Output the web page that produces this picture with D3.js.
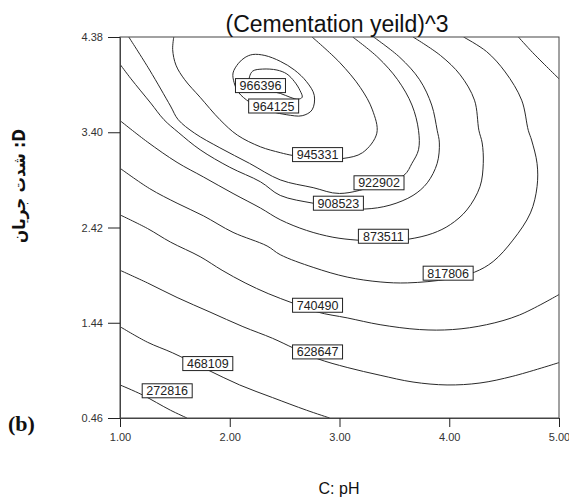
<!DOCTYPE html>
<html>
<head>
<meta charset="utf-8">
<script src="https://cdn.jsdelivr.net/npm/d3@7"></script>
<style>
  body { margin: 0; background: #fff; }
  text { font-family: "Liberation Sans", Arial, sans-serif; }
</style>
</head>
<body>
<svg id="chart" width="569" height="500"></svg>
<script>
// axis ticks
const xTicks = [1.00, 2.00, 3.00, 4.00, 5.00];
const yTicks = [0.46, 1.44, 2.42, 3.40, 4.38];

// contour lines, [pH, D]
const c272816 = [[1.00,0.80],[1.20,0.70],[1.46,0.54],[1.61,0.46]];
const c468109 = [[1.00,1.40],[1.25,1.24],[1.48,1.13],[1.79,0.96],[2.09,0.80],[2.39,0.67],[2.70,0.54],[2.91,0.46]];
const c628647 = [[1.00,1.98],[1.25,1.85],[1.52,1.70],[1.82,1.55],[2.12,1.40],[2.39,1.28],[2.58,1.18],[2.80,1.07],
  [3.07,0.98],[3.37,0.90],[3.67,0.83],[3.98,0.80],[4.28,0.82],[4.58,0.89],[5.00,1.03]];
const c740490 = [[1.00,2.55],[1.25,2.41],[1.46,2.27],[1.73,2.12],[1.93,1.98],[2.14,1.85],[2.35,1.74],[2.58,1.64],
  [2.80,1.55],[3.07,1.49],[3.37,1.42],[3.73,1.37],[4.03,1.37],[4.34,1.42],[4.64,1.52],[5.00,1.73]];
const c740490b = [[4.63,4.38],[4.76,4.22],[5.00,3.95]];
const c817806 = [[1.00,3.03],[1.27,2.82],[1.52,2.67],[1.76,2.54],[2.03,2.37],[2.34,2.23],[2.46,2.14],[2.76,2.01],
  [3.07,1.91],[3.37,1.86],[3.62,1.85],[3.99,1.89],[4.23,1.96],[4.40,2.07],[4.58,2.29],[4.74,2.57],[4.80,2.84],
  [4.80,3.08],[4.75,3.32],[4.72,3.42],[4.66,3.73],[4.51,4.02],[4.34,4.23],[4.13,4.38]];
const c873511 = [[1.00,3.52],[1.25,3.30],[1.52,3.09],[1.76,2.94],[2.03,2.77],[2.28,2.62],[2.46,2.50],[2.70,2.39],
  [2.94,2.32],[3.16,2.29],[3.40,2.28],[3.63,2.30],[3.85,2.36],[4.01,2.45],[4.16,2.60],[4.28,2.84],[4.31,3.08],
  [4.30,3.29],[4.27,3.42],[4.23,3.73],[4.10,3.99],[3.92,4.19],[3.67,4.38]];
const c908523 = [[1.00,4.10],[1.10,3.95],[1.28,3.70],[1.40,3.53],[1.53,3.40],[1.73,3.22],[2.00,3.04],[2.28,2.89],[2.46,2.75],
  [2.76,2.67],[2.99,2.63],[3.23,2.61],[3.46,2.65],[3.67,2.75],[3.80,2.88],[3.89,3.08],[3.91,3.29],[3.89,3.42],
  [3.84,3.68],[3.73,3.94],[3.55,4.17],[3.31,4.38]];
const c922902 = [[1.08,4.38],[1.27,4.04],[1.46,3.67],[1.53,3.53],[1.68,3.39],[1.91,3.24],[2.18,3.08],[2.46,2.91],
  [2.76,2.83],[3.00,2.77],[3.36,2.86],[3.59,2.96],[3.66,3.08],[3.72,3.22],[3.72,3.42],[3.66,3.68],[3.53,3.94],
  [3.35,4.17],[3.12,4.38]];
const c945331 = [[1.49,4.38],[1.48,4.25],[1.51,4.09],[1.59,3.94],[1.73,3.76],[1.91,3.53],[2.07,3.37],[2.28,3.25],
  [2.46,3.19],[2.58,3.16],[2.80,3.13],[3.03,3.13],[3.21,3.19],[3.34,3.39],[3.30,3.63],[3.19,3.86],[3.00,4.12],[2.75,4.38]];
const c964125 = [[2.03,4.01],[2.08,4.11],[2.14,4.17],[2.21,4.20],[2.32,4.19],[2.46,4.13],[2.59,4.04],[2.70,3.92],
  [2.77,3.78],[2.75,3.63],[2.66,3.57],[2.52,3.58],[2.39,3.61],[2.28,3.65],[2.18,3.71],[2.08,3.81],[2.04,3.91]];
const c966396 = [[2.18,3.97],[2.21,4.03],[2.30,4.05],[2.43,4.04],[2.52,4.00],[2.59,3.92],[2.64,3.83],[2.66,3.76],
  [2.62,3.74],[2.55,3.76],[2.46,3.80],[2.34,3.83],[2.23,3.87],[2.18,3.91]];

// contour labels: [text, pH, D]
const contourLabels = [
  ["966396", 2.28, 3.88], ["964125", 2.40, 3.67], ["945331", 2.80, 3.17],
  ["922902", 3.36, 2.88], ["908523", 2.99, 2.67], ["873511", 3.40, 2.33],
  ["817806", 3.99, 1.95], ["740490", 2.80, 1.62], ["628647", 2.80, 1.14],
  ["468109", 1.80, 1.02], ["272816", 1.43, 0.74]
];

const openLines = [c272816, c468109, c628647, c740490, c740490b, c817806, c873511, c908523, c922902, c945331];
const closedLines = [c964125, c966396];

const svg = d3.select('#chart');
const margin = { left: 120, right: 10, top: 37, bottom: 82 };
const width = 569, height = 500;

const x = d3.scaleLinear().domain([1, 5]).range([margin.left, width - margin.right]);
const y = d3.scaleLinear().domain([0.46, 4.38]).range([height - margin.bottom, margin.top]);

svg.append('clipPath').attr('id', 'plotClip')
  .append('rect')
  .attr('x', x(1)).attr('y', y(4.38))
  .attr('width', x(5) - x(1)).attr('height', y(0.46) - y(4.38));

const g = svg.append('g').attr('clip-path', 'url(#plotClip)');

const openLine = d3.line().x(d => x(d[0])).y(d => y(d[1])).curve(d3.curveCatmullRom.alpha(0.5));
const closedLine = d3.line().x(d => x(d[0])).y(d => y(d[1])).curve(d3.curveCatmullRomClosed.alpha(0.5));

g.selectAll('path.open').data(openLines).enter().append('path')
  .attr('class', 'open')
  .attr('d', openLine)
  .attr('fill', 'none').attr('stroke', '#2a2a2a').attr('stroke-width', 1);

g.selectAll('path.closed').data(closedLines).enter().append('path')
  .attr('class', 'closed')
  .attr('d', closedLine)
  .attr('fill', 'none').attr('stroke', '#2a2a2a').attr('stroke-width', 1);

// labels on the contours
const lab = svg.append('g').selectAll('g').data(contourLabels).enter().append('g')
  .attr('transform', d => `translate(${x(d[1])},${y(d[2])})`);
lab.append('rect')
  .attr('x', -25).attr('y', -7).attr('width', 50).attr('height', 14)
  .attr('fill', '#fff').attr('stroke', '#222').attr('stroke-width', 1);
lab.append('text')
  .attr('text-anchor', 'middle').attr('dy', '0.36em')
  .attr('font-size', 12.5).attr('fill', '#222')
  .text(d => d[0]);

// frame
svg.append('rect')
  .attr('x', x(1)).attr('y', y(4.38))
  .attr('width', x(5) - x(1)).attr('height', y(0.46) - y(4.38))
  .attr('fill', 'none').attr('stroke', '#444').attr('stroke-width', 1);

// axes
const xAxis = d3.axisBottom(x).tickValues(xTicks).tickFormat(d3.format('.2f')).tickSize(9).tickPadding(6);
const yAxis = d3.axisLeft(y).tickValues(yTicks).tickFormat(d3.format('.2f')).tickSize(12).tickPadding(5);

svg.append('g').attr('transform', `translate(0,${y(0.46)})`).call(xAxis)
  .call(a => a.select('.domain').attr('stroke', '#444'))
  .call(a => a.selectAll('line').attr('stroke', '#222'))
  .call(a => a.selectAll('text').attr('font-size', 11).attr('fill', '#333').attr('font-family', 'Liberation Sans, Arial'));
svg.append('g').attr('transform', `translate(${x(1)},0)`).call(yAxis)
  .call(a => a.select('.domain').attr('stroke', '#444'))
  .call(a => a.selectAll('line').attr('stroke', '#222'))
  .call(a => a.selectAll('text').attr('font-size', 11).attr('fill', '#333').attr('font-family', 'Liberation Sans, Arial'));

// title and axis titles
svg.append('text')
  .attr('x', 337).attr('y', 32)
  .attr('text-anchor', 'middle').attr('font-size', 23).attr('fill', '#111')
  .text('(Cementation yeild)^3');

svg.append('text')
  .attr('x', 339).attr('y', 494)
  .attr('text-anchor', 'middle').attr('font-size', 16).attr('fill', '#111')
  .text('C: pH');

svg.append('text')
  .attr('transform', 'translate(25,186) rotate(-90)')
  .attr('text-anchor', 'middle').attr('direction', 'rtl')
  .style('font-family', '"DejaVu Sans Condensed", "DejaVu Sans", sans-serif')
  .attr('font-size', 17).attr('font-weight', 'bold').attr('fill', '#111')
  .text('D: شدت جریان');

svg.append('text')
  .attr('x', 8).attr('y', 431)
  .style('font-family', '"Liberation Serif", "Times New Roman", serif')
  .attr('font-size', 22).attr('font-weight', 'bold').attr('fill', '#111')
  .text('(b)');
</script>
</body>
</html>
